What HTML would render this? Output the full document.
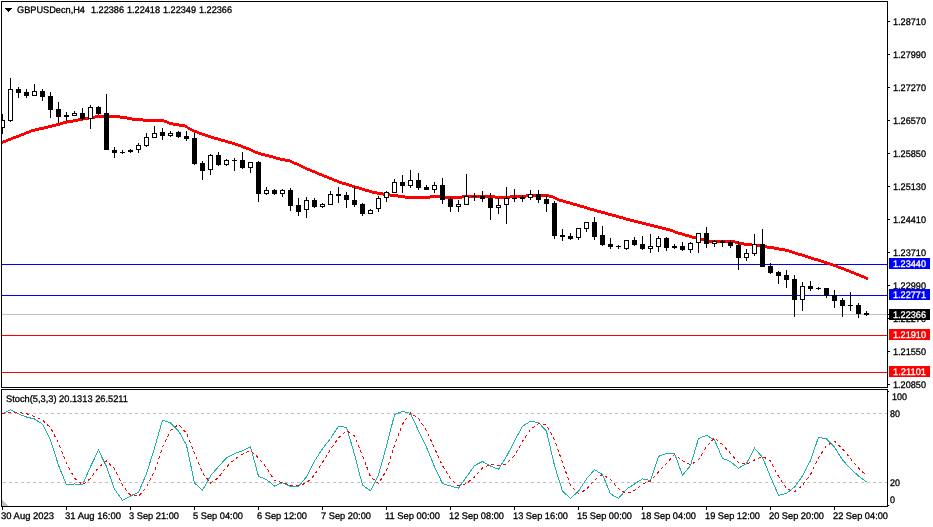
<!DOCTYPE html>
<html><head><meta charset="utf-8"><title>GBPUSDecn,H4</title>
<style>html,body{margin:0;padding:0;background:#fff;overflow:hidden}svg{display:block}</style></head>
<body>
<svg width="933" height="527" viewBox="0 0 933 527" shape-rendering="crispEdges" text-rendering="geometricPrecision">
<rect x="0" y="0" width="933" height="527" fill="#ffffff"/>
<defs><clipPath id="cm"><rect x="2" y="2" width="885" height="385"/></clipPath><clipPath id="cs"><rect x="2" y="390" width="885" height="116"/></clipPath></defs>
<g clip-path="url(#cm)">
<rect x="2" y="314" width="885" height="1" fill="#c0c0c0"/>
<rect x="2" y="264" width="885" height="1" fill="#0000ff"/>
<rect x="2" y="295" width="885" height="1" fill="#0000ff"/>
<rect x="2" y="335" width="885" height="1" fill="#ff0000"/>
<rect x="2" y="372" width="885" height="1" fill="#ff0000"/>
<path d="M2 141h1v3h-1zM3 140h3v3h-3zM6 139h2v3h-2zM8 138h3v3h-3zM11 137h2v3h-2zM13 136h3v3h-3zM16 135h3v3h-3zM19 134h2v3h-2zM21 133h3v3h-3zM24 132h2v3h-2zM26 131h3v3h-3zM29 130h2v3h-2zM31 129h4v3h-4zM35 128h4v3h-4zM39 127h5v3h-5zM44 126h4v3h-4zM48 125h4v3h-4zM52 124h4v3h-4zM56 123h4v3h-4zM60 122h3v3h-3zM63 121h4v3h-4zM67 120h6v3h-6zM73 119h5v3h-5zM78 118h5v3h-5zM83 117h6v3h-6zM89 116h6v3h-6zM95 115h25v3h-25zM120 116h7v3h-7zM127 117h5v3h-5zM132 118h11v3h-11zM143 119h21v3h-21zM164 120h3v3h-3zM167 121h2v3h-2zM169 122h4v3h-4zM173 123h6v3h-6zM179 124h6v3h-6zM185 125h2v3h-2zM187 126h1v3h-1zM188 127h2v3h-2zM190 128h2v3h-2zM192 129h2v3h-2zM194 130h3v3h-3zM197 131h2v3h-2zM199 132h3v3h-3zM202 133h3v3h-3zM205 134h3v3h-3zM208 135h3v3h-3zM211 136h3v3h-3zM214 137h4v3h-4zM218 138h3v3h-3zM221 139h4v3h-4zM225 140h3v3h-3zM228 141h4v3h-4zM232 142h3v3h-3zM235 143h3v3h-3zM238 144h3v3h-3zM241 145h2v3h-2zM243 146h3v3h-3zM246 147h3v3h-3zM249 148h2v3h-2zM251 149h2v3h-2zM253 150h2v3h-2zM255 151h3v3h-3zM258 152h3v3h-3zM261 153h4v3h-4zM265 154h4v3h-4zM269 155h4v3h-4zM273 156h3v3h-3zM276 157h4v3h-4zM280 158h5v3h-5zM285 159h5v3h-5zM290 160h2v3h-2zM292 161h2v3h-2zM294 162h3v3h-3zM297 163h2v3h-2zM299 164h2v3h-2zM301 165h2v3h-2zM303 166h2v3h-2zM305 167h2v3h-2zM307 168h3v3h-3zM310 169h2v3h-2zM312 170h3v3h-3zM315 171h2v3h-2zM317 172h2v3h-2zM319 173h3v3h-3zM322 174h2v3h-2zM324 175h3v3h-3zM327 176h2v3h-2zM329 177h3v3h-3zM332 178h2v3h-2zM334 179h3v3h-3zM337 180h2v3h-2zM339 181h3v3h-3zM342 182h4v3h-4zM346 183h3v3h-3zM349 184h3v3h-3zM352 185h3v3h-3zM355 186h4v3h-4zM359 187h3v3h-3zM362 188h3v3h-3zM365 189h4v3h-4zM369 190h3v3h-3zM372 191h5v3h-5zM377 192h6v3h-6zM383 193h7v3h-7zM390 194h8v3h-8zM398 195h7v3h-7zM405 196h25v3h-25zM430 195h10v3h-10zM440 196h22v3h-22zM462 195h33v3h-33zM495 196h15v3h-15zM510 195h16v3h-16zM526 194h23v3h-23zM549 195h4v3h-4zM553 196h2v3h-2zM555 197h2v3h-2zM557 198h2v3h-2zM559 199h4v3h-4zM563 200h3v3h-3zM566 201h4v3h-4zM570 202h3v3h-3zM573 203h4v3h-4zM577 204h3v3h-3zM580 205h4v3h-4zM584 206h3v3h-3zM587 207h3v3h-3zM590 208h4v3h-4zM594 209h3v3h-3zM597 210h4v3h-4zM601 211h4v3h-4zM605 212h3v3h-3zM608 213h4v3h-4zM612 214h4v3h-4zM616 215h3v3h-3zM619 216h4v3h-4zM623 217h3v3h-3zM626 218h4v3h-4zM630 219h4v3h-4zM634 220h4v3h-4zM638 221h4v3h-4zM642 222h4v3h-4zM646 223h4v3h-4zM650 224h4v3h-4zM654 225h4v3h-4zM658 226h4v3h-4zM662 227h4v3h-4zM666 228h4v3h-4zM670 229h3v3h-3zM673 230h2v3h-2zM675 231h3v3h-3zM678 232h4v3h-4zM682 233h3v3h-3zM685 234h4v3h-4zM689 235h3v3h-3zM692 236h4v3h-4zM696 237h4v3h-4zM700 238h4v3h-4zM704 239h3v3h-3zM707 240h28v3h-28zM735 241h4v3h-4zM739 242h5v3h-5zM744 243h8v3h-8zM752 244h8v3h-8zM760 245h7v3h-7zM767 246h7v3h-7zM774 247h5v3h-5zM779 248h6v3h-6zM785 249h4v3h-4zM789 250h3v3h-3zM792 251h3v3h-3zM795 252h3v3h-3zM798 253h4v3h-4zM802 254h3v3h-3zM805 255h3v3h-3zM808 256h3v3h-3zM811 257h3v3h-3zM814 258h4v3h-4zM818 259h3v3h-3zM821 260h3v3h-3zM824 261h3v3h-3zM827 262h3v3h-3zM830 263h3v3h-3zM833 264h3v3h-3zM836 265h2v3h-2zM838 266h3v3h-3zM841 267h3v3h-3zM844 268h2v3h-2zM846 269h3v3h-3zM849 270h2v3h-2zM851 271h3v3h-3zM854 272h2v3h-2zM856 273h3v3h-3zM859 274h2v3h-2zM861 275h3v3h-3zM864 276h2v3h-2zM866 277h2v3h-2z" fill="#ff0000"/>
<rect x="2" y="114" width="1" height="20" fill="#000"/>
<rect x="0" y="120" width="5" height="8" fill="#000"/>
<rect x="1" y="121" width="3" height="6" fill="#fff"/>
<rect x="10" y="78" width="1" height="44" fill="#000"/>
<rect x="8" y="89" width="5" height="32" fill="#000"/>
<rect x="9" y="90" width="3" height="30" fill="#fff"/>
<rect x="18" y="87" width="1" height="11" fill="#000"/>
<rect x="16" y="89" width="5" height="4" fill="#000"/>
<rect x="26" y="89" width="1" height="9" fill="#000"/>
<rect x="24" y="92" width="5" height="4" fill="#000"/>
<rect x="34" y="84" width="1" height="11" fill="#000"/>
<rect x="32" y="91" width="5" height="5" fill="#000"/>
<rect x="33" y="92" width="3" height="3" fill="#fff"/>
<rect x="42" y="89" width="1" height="12" fill="#000"/>
<rect x="40" y="91" width="5" height="6" fill="#000"/>
<rect x="50" y="92" width="1" height="26" fill="#000"/>
<rect x="48" y="96" width="5" height="14" fill="#000"/>
<rect x="58" y="102" width="1" height="21" fill="#000"/>
<rect x="56" y="109" width="5" height="8" fill="#000"/>
<rect x="66" y="112" width="1" height="9" fill="#000"/>
<rect x="64" y="115" width="5" height="2" fill="#000"/>
<rect x="74" y="111" width="1" height="5" fill="#000"/>
<rect x="72" y="113" width="5" height="3" fill="#000"/>
<rect x="73" y="114" width="3" height="1" fill="#fff"/>
<rect x="82" y="108" width="1" height="12" fill="#000"/>
<rect x="80" y="113" width="5" height="6" fill="#000"/>
<rect x="90" y="105" width="1" height="24" fill="#000"/>
<rect x="88" y="107" width="5" height="12" fill="#000"/>
<rect x="89" y="108" width="3" height="10" fill="#fff"/>
<rect x="98" y="106" width="1" height="9" fill="#000"/>
<rect x="96" y="107" width="5" height="7" fill="#000"/>
<rect x="106" y="94" width="1" height="56" fill="#000"/>
<rect x="104" y="113" width="5" height="37" fill="#000"/>
<rect x="114" y="147" width="1" height="11" fill="#000"/>
<rect x="112" y="150" width="5" height="3" fill="#000"/>
<rect x="122" y="150" width="1" height="4" fill="#000"/>
<rect x="120" y="152" width="5" height="1" fill="#000"/>
<rect x="130" y="149" width="1" height="4" fill="#000"/>
<rect x="128" y="150" width="5" height="2" fill="#000"/>
<rect x="138" y="143" width="1" height="10" fill="#000"/>
<rect x="136" y="145" width="5" height="5" fill="#000"/>
<rect x="137" y="146" width="3" height="3" fill="#fff"/>
<rect x="146" y="133" width="1" height="14" fill="#000"/>
<rect x="144" y="137" width="5" height="9" fill="#000"/>
<rect x="145" y="138" width="3" height="7" fill="#fff"/>
<rect x="154" y="126" width="1" height="12" fill="#000"/>
<rect x="152" y="133" width="5" height="5" fill="#000"/>
<rect x="153" y="134" width="3" height="3" fill="#fff"/>
<rect x="162" y="128" width="1" height="12" fill="#000"/>
<rect x="160" y="132" width="5" height="4" fill="#000"/>
<rect x="170" y="131" width="1" height="6" fill="#000"/>
<rect x="168" y="133" width="5" height="3" fill="#000"/>
<rect x="169" y="134" width="3" height="1" fill="#fff"/>
<rect x="178" y="131" width="1" height="7" fill="#000"/>
<rect x="176" y="132" width="5" height="5" fill="#000"/>
<rect x="186" y="131" width="1" height="10" fill="#000"/>
<rect x="184" y="136" width="5" height="3" fill="#000"/>
<rect x="194" y="133" width="1" height="32" fill="#000"/>
<rect x="192" y="138" width="5" height="26" fill="#000"/>
<rect x="202" y="161" width="1" height="19" fill="#000"/>
<rect x="200" y="163" width="5" height="8" fill="#000"/>
<rect x="210" y="154" width="1" height="21" fill="#000"/>
<rect x="208" y="155" width="5" height="15" fill="#000"/>
<rect x="209" y="156" width="3" height="13" fill="#fff"/>
<rect x="218" y="152" width="1" height="14" fill="#000"/>
<rect x="216" y="155" width="5" height="10" fill="#000"/>
<rect x="226" y="159" width="1" height="7" fill="#000"/>
<rect x="224" y="160" width="5" height="5" fill="#000"/>
<rect x="225" y="161" width="3" height="3" fill="#fff"/>
<rect x="234" y="158" width="1" height="13" fill="#000"/>
<rect x="232" y="160" width="5" height="1" fill="#000"/>
<rect x="242" y="152" width="1" height="17" fill="#000"/>
<rect x="240" y="160" width="5" height="8" fill="#000"/>
<rect x="250" y="162" width="1" height="11" fill="#000"/>
<rect x="248" y="162" width="5" height="6" fill="#000"/>
<rect x="249" y="163" width="3" height="4" fill="#fff"/>
<rect x="258" y="161" width="1" height="41" fill="#000"/>
<rect x="256" y="162" width="5" height="32" fill="#000"/>
<rect x="266" y="187" width="1" height="8" fill="#000"/>
<rect x="264" y="190" width="5" height="4" fill="#000"/>
<rect x="265" y="191" width="3" height="2" fill="#fff"/>
<rect x="274" y="189" width="1" height="6" fill="#000"/>
<rect x="272" y="190" width="5" height="4" fill="#000"/>
<rect x="282" y="189" width="1" height="8" fill="#000"/>
<rect x="280" y="190" width="5" height="4" fill="#000"/>
<rect x="281" y="191" width="3" height="2" fill="#fff"/>
<rect x="290" y="188" width="1" height="23" fill="#000"/>
<rect x="288" y="190" width="5" height="16" fill="#000"/>
<rect x="298" y="198" width="1" height="18" fill="#000"/>
<rect x="296" y="205" width="5" height="7" fill="#000"/>
<rect x="306" y="197" width="1" height="21" fill="#000"/>
<rect x="304" y="200" width="5" height="10" fill="#000"/>
<rect x="305" y="201" width="3" height="8" fill="#fff"/>
<rect x="314" y="198" width="1" height="10" fill="#000"/>
<rect x="312" y="200" width="5" height="7" fill="#000"/>
<rect x="322" y="203" width="1" height="5" fill="#000"/>
<rect x="320" y="204" width="5" height="3" fill="#000"/>
<rect x="321" y="205" width="3" height="1" fill="#fff"/>
<rect x="330" y="191" width="1" height="14" fill="#000"/>
<rect x="328" y="194" width="5" height="11" fill="#000"/>
<rect x="329" y="195" width="3" height="9" fill="#fff"/>
<rect x="338" y="187" width="1" height="16" fill="#000"/>
<rect x="336" y="194" width="5" height="2" fill="#000"/>
<rect x="346" y="192" width="1" height="16" fill="#000"/>
<rect x="344" y="195" width="5" height="5" fill="#000"/>
<rect x="354" y="186" width="1" height="21" fill="#000"/>
<rect x="352" y="200" width="5" height="5" fill="#000"/>
<rect x="362" y="203" width="1" height="13" fill="#000"/>
<rect x="360" y="204" width="5" height="10" fill="#000"/>
<rect x="370" y="209" width="1" height="5" fill="#000"/>
<rect x="368" y="210" width="5" height="4" fill="#000"/>
<rect x="369" y="211" width="3" height="2" fill="#fff"/>
<rect x="378" y="196" width="1" height="16" fill="#000"/>
<rect x="376" y="198" width="5" height="11" fill="#000"/>
<rect x="377" y="199" width="3" height="9" fill="#fff"/>
<rect x="386" y="191" width="1" height="11" fill="#000"/>
<rect x="384" y="192" width="5" height="6" fill="#000"/>
<rect x="385" y="193" width="3" height="4" fill="#fff"/>
<rect x="394" y="179" width="1" height="14" fill="#000"/>
<rect x="392" y="182" width="5" height="11" fill="#000"/>
<rect x="393" y="183" width="3" height="9" fill="#fff"/>
<rect x="402" y="175" width="1" height="18" fill="#000"/>
<rect x="400" y="182" width="5" height="4" fill="#000"/>
<rect x="410" y="170" width="1" height="18" fill="#000"/>
<rect x="408" y="180" width="5" height="6" fill="#000"/>
<rect x="409" y="181" width="3" height="4" fill="#fff"/>
<rect x="418" y="173" width="1" height="17" fill="#000"/>
<rect x="416" y="180" width="5" height="8" fill="#000"/>
<rect x="426" y="185" width="1" height="5" fill="#000"/>
<rect x="424" y="187" width="5" height="3" fill="#000"/>
<rect x="434" y="182" width="1" height="11" fill="#000"/>
<rect x="432" y="185" width="5" height="5" fill="#000"/>
<rect x="433" y="186" width="3" height="3" fill="#fff"/>
<rect x="442" y="178" width="1" height="26" fill="#000"/>
<rect x="440" y="185" width="5" height="15" fill="#000"/>
<rect x="450" y="197" width="1" height="15" fill="#000"/>
<rect x="448" y="199" width="5" height="8" fill="#000"/>
<rect x="458" y="200" width="1" height="12" fill="#000"/>
<rect x="456" y="204" width="5" height="3" fill="#000"/>
<rect x="457" y="205" width="3" height="1" fill="#fff"/>
<rect x="466" y="174" width="1" height="31" fill="#000"/>
<rect x="464" y="196" width="5" height="9" fill="#000"/>
<rect x="465" y="197" width="3" height="7" fill="#fff"/>
<rect x="474" y="193" width="1" height="8" fill="#000"/>
<rect x="472" y="196" width="5" height="1" fill="#000"/>
<rect x="482" y="191" width="1" height="11" fill="#000"/>
<rect x="480" y="196" width="5" height="3" fill="#000"/>
<rect x="490" y="193" width="1" height="27" fill="#000"/>
<rect x="488" y="198" width="5" height="10" fill="#000"/>
<rect x="498" y="198" width="1" height="16" fill="#000"/>
<rect x="496" y="205" width="5" height="3" fill="#000"/>
<rect x="497" y="206" width="3" height="1" fill="#fff"/>
<rect x="506" y="187" width="1" height="37" fill="#000"/>
<rect x="504" y="198" width="5" height="7" fill="#000"/>
<rect x="505" y="199" width="3" height="5" fill="#fff"/>
<rect x="514" y="189" width="1" height="13" fill="#000"/>
<rect x="512" y="198" width="5" height="1" fill="#000"/>
<rect x="522" y="195" width="1" height="7" fill="#000"/>
<rect x="520" y="197" width="5" height="2" fill="#000"/>
<rect x="530" y="190" width="1" height="10" fill="#000"/>
<rect x="528" y="194" width="5" height="4" fill="#000"/>
<rect x="529" y="195" width="3" height="2" fill="#fff"/>
<rect x="538" y="190" width="1" height="13" fill="#000"/>
<rect x="536" y="194" width="5" height="6" fill="#000"/>
<rect x="546" y="195" width="1" height="17" fill="#000"/>
<rect x="544" y="199" width="5" height="5" fill="#000"/>
<rect x="554" y="201" width="1" height="38" fill="#000"/>
<rect x="552" y="203" width="5" height="33" fill="#000"/>
<rect x="562" y="229" width="1" height="12" fill="#000"/>
<rect x="560" y="235" width="5" height="2" fill="#000"/>
<rect x="570" y="233" width="1" height="7" fill="#000"/>
<rect x="568" y="236" width="5" height="3" fill="#000"/>
<rect x="578" y="228" width="1" height="12" fill="#000"/>
<rect x="576" y="228" width="5" height="10" fill="#000"/>
<rect x="577" y="229" width="3" height="8" fill="#fff"/>
<rect x="586" y="222" width="1" height="10" fill="#000"/>
<rect x="584" y="222" width="5" height="7" fill="#000"/>
<rect x="585" y="223" width="3" height="5" fill="#fff"/>
<rect x="594" y="217" width="1" height="23" fill="#000"/>
<rect x="592" y="222" width="5" height="15" fill="#000"/>
<rect x="602" y="226" width="1" height="20" fill="#000"/>
<rect x="600" y="235" width="5" height="10" fill="#000"/>
<rect x="610" y="238" width="1" height="11" fill="#000"/>
<rect x="608" y="244" width="5" height="3" fill="#000"/>
<rect x="618" y="245" width="1" height="4" fill="#000"/>
<rect x="616" y="246" width="5" height="1" fill="#000"/>
<rect x="626" y="240" width="1" height="10" fill="#000"/>
<rect x="624" y="240" width="5" height="9" fill="#000"/>
<rect x="625" y="241" width="3" height="7" fill="#fff"/>
<rect x="634" y="237" width="1" height="9" fill="#000"/>
<rect x="632" y="240" width="5" height="5" fill="#000"/>
<rect x="642" y="236" width="1" height="14" fill="#000"/>
<rect x="640" y="244" width="5" height="5" fill="#000"/>
<rect x="650" y="234" width="1" height="19" fill="#000"/>
<rect x="648" y="246" width="5" height="3" fill="#000"/>
<rect x="649" y="247" width="3" height="1" fill="#fff"/>
<rect x="658" y="236" width="1" height="16" fill="#000"/>
<rect x="656" y="238" width="5" height="9" fill="#000"/>
<rect x="657" y="239" width="3" height="7" fill="#fff"/>
<rect x="666" y="237" width="1" height="14" fill="#000"/>
<rect x="664" y="238" width="5" height="10" fill="#000"/>
<rect x="674" y="244" width="1" height="5" fill="#000"/>
<rect x="672" y="246" width="5" height="2" fill="#000"/>
<rect x="682" y="242" width="1" height="9" fill="#000"/>
<rect x="680" y="246" width="5" height="4" fill="#000"/>
<rect x="690" y="242" width="1" height="11" fill="#000"/>
<rect x="688" y="243" width="5" height="7" fill="#000"/>
<rect x="689" y="244" width="3" height="5" fill="#fff"/>
<rect x="698" y="233" width="1" height="20" fill="#000"/>
<rect x="696" y="233" width="5" height="10" fill="#000"/>
<rect x="697" y="234" width="3" height="8" fill="#fff"/>
<rect x="706" y="227" width="1" height="21" fill="#000"/>
<rect x="704" y="233" width="5" height="11" fill="#000"/>
<rect x="714" y="240" width="1" height="7" fill="#000"/>
<rect x="712" y="241" width="5" height="3" fill="#000"/>
<rect x="713" y="242" width="3" height="1" fill="#fff"/>
<rect x="722" y="240" width="1" height="7" fill="#000"/>
<rect x="720" y="241" width="5" height="2" fill="#000"/>
<rect x="730" y="240" width="1" height="8" fill="#000"/>
<rect x="728" y="242" width="5" height="4" fill="#000"/>
<rect x="738" y="241" width="1" height="29" fill="#000"/>
<rect x="736" y="245" width="5" height="13" fill="#000"/>
<rect x="746" y="249" width="1" height="12" fill="#000"/>
<rect x="744" y="253" width="5" height="5" fill="#000"/>
<rect x="745" y="254" width="3" height="3" fill="#fff"/>
<rect x="754" y="234" width="1" height="22" fill="#000"/>
<rect x="752" y="244" width="5" height="10" fill="#000"/>
<rect x="753" y="245" width="3" height="8" fill="#fff"/>
<rect x="762" y="229" width="1" height="38" fill="#000"/>
<rect x="760" y="244" width="5" height="23" fill="#000"/>
<rect x="770" y="263" width="1" height="11" fill="#000"/>
<rect x="768" y="266" width="5" height="7" fill="#000"/>
<rect x="778" y="271" width="1" height="13" fill="#000"/>
<rect x="776" y="272" width="5" height="4" fill="#000"/>
<rect x="786" y="270" width="1" height="18" fill="#000"/>
<rect x="784" y="275" width="5" height="5" fill="#000"/>
<rect x="794" y="275" width="1" height="42" fill="#000"/>
<rect x="792" y="279" width="5" height="21" fill="#000"/>
<rect x="802" y="282" width="1" height="29" fill="#000"/>
<rect x="800" y="286" width="5" height="14" fill="#000"/>
<rect x="801" y="287" width="3" height="12" fill="#fff"/>
<rect x="810" y="281" width="1" height="10" fill="#000"/>
<rect x="808" y="286" width="5" height="3" fill="#000"/>
<rect x="818" y="287" width="1" height="3" fill="#000"/>
<rect x="816" y="288" width="5" height="1" fill="#000"/>
<rect x="826" y="288" width="1" height="10" fill="#000"/>
<rect x="824" y="288" width="5" height="8" fill="#000"/>
<rect x="834" y="290" width="1" height="18" fill="#000"/>
<rect x="832" y="295" width="5" height="6" fill="#000"/>
<rect x="842" y="298" width="1" height="19" fill="#000"/>
<rect x="840" y="300" width="5" height="6" fill="#000"/>
<rect x="850" y="292" width="1" height="19" fill="#000"/>
<rect x="848" y="305" width="5" height="1" fill="#000"/>
<rect x="858" y="303" width="1" height="15" fill="#000"/>
<rect x="856" y="305" width="5" height="9" fill="#000"/>
<rect x="866" y="311" width="1" height="5" fill="#000"/>
<rect x="864" y="313" width="5" height="2" fill="#000"/>
</g>
<rect x="1" y="1" width="887" height="1" fill="#000"/>
<rect x="1" y="1" width="1" height="387" fill="#000"/>
<rect x="887" y="1" width="1" height="387" fill="#000"/>
<rect x="1" y="387" width="887" height="1" fill="#000"/>
<rect x="888" y="21" width="2" height="1" fill="#000"/>
<text x="893" y="25" font-family="Liberation Sans, sans-serif" font-size="9.5" fill="#000000" stroke="#000000" stroke-width="0.3" textLength="33" lengthAdjust="spacingAndGlyphs">1.28710</text>
<rect x="888" y="54" width="2" height="1" fill="#000"/>
<text x="893" y="58" font-family="Liberation Sans, sans-serif" font-size="9.5" fill="#000000" stroke="#000000" stroke-width="0.3" textLength="33" lengthAdjust="spacingAndGlyphs">1.27990</text>
<rect x="888" y="87" width="2" height="1" fill="#000"/>
<text x="893" y="91" font-family="Liberation Sans, sans-serif" font-size="9.5" fill="#000000" stroke="#000000" stroke-width="0.3" textLength="33" lengthAdjust="spacingAndGlyphs">1.27270</text>
<rect x="888" y="120" width="2" height="1" fill="#000"/>
<text x="893" y="124" font-family="Liberation Sans, sans-serif" font-size="9.5" fill="#000000" stroke="#000000" stroke-width="0.3" textLength="33" lengthAdjust="spacingAndGlyphs">1.26570</text>
<rect x="888" y="153" width="2" height="1" fill="#000"/>
<text x="893" y="157" font-family="Liberation Sans, sans-serif" font-size="9.5" fill="#000000" stroke="#000000" stroke-width="0.3" textLength="33" lengthAdjust="spacingAndGlyphs">1.25850</text>
<rect x="888" y="186" width="2" height="1" fill="#000"/>
<text x="893" y="190" font-family="Liberation Sans, sans-serif" font-size="9.5" fill="#000000" stroke="#000000" stroke-width="0.3" textLength="33" lengthAdjust="spacingAndGlyphs">1.25130</text>
<rect x="888" y="219" width="2" height="1" fill="#000"/>
<text x="893" y="223" font-family="Liberation Sans, sans-serif" font-size="9.5" fill="#000000" stroke="#000000" stroke-width="0.3" textLength="33" lengthAdjust="spacingAndGlyphs">1.24410</text>
<rect x="888" y="252" width="2" height="1" fill="#000"/>
<text x="893" y="256" font-family="Liberation Sans, sans-serif" font-size="9.5" fill="#000000" stroke="#000000" stroke-width="0.3" textLength="33" lengthAdjust="spacingAndGlyphs">1.23710</text>
<rect x="888" y="285" width="2" height="1" fill="#000"/>
<text x="893" y="289" font-family="Liberation Sans, sans-serif" font-size="9.5" fill="#000000" stroke="#000000" stroke-width="0.3" textLength="33" lengthAdjust="spacingAndGlyphs">1.22990</text>
<rect x="888" y="318" width="2" height="1" fill="#000"/>
<text x="893" y="322" font-family="Liberation Sans, sans-serif" font-size="9.5" fill="#000000" stroke="#000000" stroke-width="0.3" textLength="33" lengthAdjust="spacingAndGlyphs">1.22270</text>
<rect x="888" y="351" width="2" height="1" fill="#000"/>
<text x="893" y="355" font-family="Liberation Sans, sans-serif" font-size="9.5" fill="#000000" stroke="#000000" stroke-width="0.3" textLength="33" lengthAdjust="spacingAndGlyphs">1.21550</text>
<rect x="888" y="384" width="2" height="1" fill="#000"/>
<text x="893" y="388" font-family="Liberation Sans, sans-serif" font-size="9.5" fill="#000000" stroke="#000000" stroke-width="0.3" textLength="33" lengthAdjust="spacingAndGlyphs">1.20850</text>
<rect x="889" y="258" width="41" height="11" fill="#0000ff"/>
<text x="893" y="267" font-family="Liberation Sans, sans-serif" font-size="9.5" fill="#ffffff" stroke="#ffffff" stroke-width="0.3" textLength="33" lengthAdjust="spacingAndGlyphs">1.23440</text>
<rect x="889" y="289" width="41" height="11" fill="#0000ff"/>
<text x="893" y="298" font-family="Liberation Sans, sans-serif" font-size="9.5" fill="#ffffff" stroke="#ffffff" stroke-width="0.3" textLength="33" lengthAdjust="spacingAndGlyphs">1.22771</text>
<rect x="889" y="329" width="41" height="11" fill="#ff0000"/>
<text x="893" y="338" font-family="Liberation Sans, sans-serif" font-size="9.5" fill="#ffffff" stroke="#ffffff" stroke-width="0.3" textLength="33" lengthAdjust="spacingAndGlyphs">1.21910</text>
<rect x="889" y="366" width="41" height="11" fill="#ff0000"/>
<text x="893" y="375" font-family="Liberation Sans, sans-serif" font-size="9.5" fill="#ffffff" stroke="#ffffff" stroke-width="0.3" textLength="33" lengthAdjust="spacingAndGlyphs">1.21101</text>
<rect x="889" y="309" width="41" height="11" fill="#000"/>
<text x="893" y="318" font-family="Liberation Sans, sans-serif" font-size="9.5" fill="#fff" stroke="#fff" stroke-width="0.3" textLength="33" lengthAdjust="spacingAndGlyphs">1.22366</text>
<rect x="887" y="314" width="3" height="1" fill="#000"/>
<path d="M5 8h7l-3.5 4z" fill="#000"/>
<text x="17" y="13" font-family="Liberation Sans, sans-serif" font-size="9.5" fill="#000000" stroke="#000000" stroke-width="0.3" textLength="68" lengthAdjust="spacingAndGlyphs">GBPUSDecn,H4</text>
<text x="91" y="13" font-family="Liberation Sans, sans-serif" font-size="9.5" fill="#000000" stroke="#000000" stroke-width="0.3" textLength="33" lengthAdjust="spacingAndGlyphs">1.22386</text>
<text x="127" y="13" font-family="Liberation Sans, sans-serif" font-size="9.5" fill="#000000" stroke="#000000" stroke-width="0.3" textLength="33" lengthAdjust="spacingAndGlyphs">1.22418</text>
<text x="163" y="13" font-family="Liberation Sans, sans-serif" font-size="9.5" fill="#000000" stroke="#000000" stroke-width="0.3" textLength="33" lengthAdjust="spacingAndGlyphs">1.22349</text>
<text x="199" y="13" font-family="Liberation Sans, sans-serif" font-size="9.5" fill="#000000" stroke="#000000" stroke-width="0.3" textLength="33" lengthAdjust="spacingAndGlyphs">1.22366</text>
<rect x="1" y="389" width="887" height="1" fill="#000"/>
<rect x="1" y="389" width="1" height="118" fill="#000"/>
<rect x="887" y="389" width="1" height="118" fill="#000"/>
<rect x="1" y="506" width="887" height="1" fill="#000"/>
<g clip-path="url(#cs)">
<path d="M3 413.5H887M3 482.5H887" stroke="#c0c0c0" stroke-width="1" stroke-dasharray="3 3" fill="none"/>
<polyline points="2.5,413.9 10.5,409.8 18.5,413.9 26.5,417.0 34.5,419.0 42.5,424.2 50.5,440.0 58.5,465.2 66.5,485.0 74.5,484.0 82.5,485.0 90.5,466.6 98.5,450.2 106.5,466.6 114.5,489.2 122.5,500.4 130.5,496.0 138.5,492.2 146.5,473.8 154.5,448.2 162.5,420.1 170.5,423.0 178.5,430.8 186.5,445.1 194.5,483.0 202.5,490.2 210.5,475.9 218.5,466.6 226.5,457.8 234.5,453.7 242.5,450.8 250.5,446.7 258.5,476.3 266.5,479.5 274.5,486.1 282.5,482.6 290.5,486.5 298.5,486.5 306.5,476.9 314.5,461.1 322.5,448.8 330.5,438.5 338.5,426.2 346.5,427.3 354.5,454.3 362.5,485.1 370.5,490.8 378.5,474.8 386.5,446.1 394.5,414.8 402.5,411.3 410.5,413.3 418.5,430.8 426.5,447.2 434.5,466.6 442.5,483.6 450.5,485.9 458.5,488.2 466.5,476.9 474.5,465.6 482.5,461.5 490.5,466.0 498.5,469.3 506.5,456.4 514.5,441.0 522.5,426.2 530.5,421.3 538.5,422.6 546.5,431.2 554.5,465.6 562.5,491.2 570.5,498.4 578.5,491.2 586.5,478.9 594.5,469.7 602.5,474.5 610.5,493.9 618.5,498.4 626.5,489.2 634.5,484.0 642.5,478.9 650.5,480.4 658.5,456.4 666.5,453.3 674.5,453.3 682.5,475.4 690.5,465.6 698.5,438.5 706.5,435.3 714.5,440.0 722.5,458.4 730.5,461.5 738.5,468.3 746.5,463.5 754.5,448.2 762.5,457.4 770.5,476.9 778.5,495.3 786.5,493.3 794.5,487.1 802.5,475.9 810.5,460.5 818.5,437.3 826.5,439.0 834.5,447.2 842.5,459.9 850.5,468.7 858.5,475.9 866.5,482.0" fill="none" stroke="#20b2aa" stroke-width="1"/>
<polyline points="2.5,413.6 10.5,412.8 18.5,412.5 26.5,413.6 34.5,416.6 42.5,420.1 50.5,427.7 58.5,443.1 66.5,463.4 74.5,478.1 82.5,484.7 90.5,478.5 98.5,467.3 106.5,461.1 114.5,468.7 122.5,485.4 130.5,495.2 138.5,496.2 146.5,487.3 154.5,471.4 162.5,447.4 170.5,430.4 178.5,424.6 186.5,433.0 194.5,453.0 202.5,472.8 210.5,483.0 218.5,477.6 226.5,466.8 234.5,459.4 242.5,454.1 250.5,450.4 258.5,457.9 266.5,467.5 274.5,480.6 282.5,482.7 290.5,485.1 298.5,485.2 306.5,483.3 314.5,474.8 322.5,462.3 330.5,449.5 338.5,437.8 346.5,430.7 354.5,435.9 362.5,455.6 370.5,476.7 378.5,483.6 386.5,470.6 394.5,445.2 402.5,424.1 410.5,413.1 418.5,418.5 426.5,430.4 434.5,448.2 442.5,465.8 450.5,478.7 458.5,485.9 466.5,483.7 474.5,476.9 482.5,468.0 490.5,464.4 498.5,465.6 506.5,463.9 514.5,455.6 522.5,441.2 530.5,429.5 538.5,423.4 546.5,425.0 554.5,439.8 562.5,462.7 570.5,485.1 578.5,493.6 586.5,489.5 594.5,479.9 602.5,474.4 610.5,479.4 618.5,488.9 626.5,493.8 634.5,490.5 642.5,484.0 650.5,481.1 658.5,471.9 666.5,463.4 674.5,454.3 682.5,460.7 690.5,464.8 698.5,459.8 706.5,446.5 714.5,437.9 722.5,444.6 730.5,453.3 738.5,462.7 746.5,464.4 754.5,460.0 762.5,456.4 770.5,460.8 778.5,476.5 786.5,488.5 794.5,491.9 802.5,485.4 810.5,474.5 818.5,457.9 826.5,445.6 834.5,441.2 842.5,448.7 850.5,458.6 858.5,468.2 866.5,475.5" fill="none" stroke="#ff0000" stroke-width="1" stroke-dasharray="3 3"/>
<path d="M2 500v6h6z" fill="#c0c0c0"/>
</g>
<text x="6" y="402" font-family="Liberation Sans, sans-serif" font-size="9.5" fill="#000000" stroke="#000000" stroke-width="0.3" textLength="122" lengthAdjust="spacingAndGlyphs">Stoch(5,3,3) 20.1313 26.5211</text>
<rect x="888" y="391" width="1" height="1" fill="#000"/>
<rect x="888" y="505" width="1" height="1" fill="#000"/>
<text x="892" y="400" font-family="Liberation Sans, sans-serif" font-size="9.5" fill="#000000" stroke="#000000" stroke-width="0.3" textLength="15" lengthAdjust="spacingAndGlyphs">100</text>
<text x="890" y="417" font-family="Liberation Sans, sans-serif" font-size="9.5" fill="#000000" stroke="#000000" stroke-width="0.3" textLength="10" lengthAdjust="spacingAndGlyphs">80</text>
<text x="890" y="486" font-family="Liberation Sans, sans-serif" font-size="9.5" fill="#000000" stroke="#000000" stroke-width="0.3" textLength="10" lengthAdjust="spacingAndGlyphs">20</text>
<text x="890" y="503" font-family="Liberation Sans, sans-serif" font-size="9.5" fill="#000000" stroke="#000000" stroke-width="0.3" textLength="5" lengthAdjust="spacingAndGlyphs">0</text>
<rect x="2" y="507" width="1" height="3" fill="#000"/>
<text x="1" y="519" font-family="Liberation Sans, sans-serif" font-size="9.5" fill="#000000" stroke="#000000" stroke-width="0.3" textLength="53" lengthAdjust="spacingAndGlyphs">30 Aug 2023</text>
<rect x="66" y="507" width="1" height="3" fill="#000"/>
<text x="65" y="519" font-family="Liberation Sans, sans-serif" font-size="9.5" fill="#000000" stroke="#000000" stroke-width="0.3" textLength="56" lengthAdjust="spacingAndGlyphs">31 Aug 16:00</text>
<rect x="130" y="507" width="1" height="3" fill="#000"/>
<text x="129" y="519" font-family="Liberation Sans, sans-serif" font-size="9.5" fill="#000000" stroke="#000000" stroke-width="0.3" textLength="50" lengthAdjust="spacingAndGlyphs">3 Sep 21:00</text>
<rect x="194" y="507" width="1" height="3" fill="#000"/>
<text x="193" y="519" font-family="Liberation Sans, sans-serif" font-size="9.5" fill="#000000" stroke="#000000" stroke-width="0.3" textLength="50" lengthAdjust="spacingAndGlyphs">5 Sep 04:00</text>
<rect x="258" y="507" width="1" height="3" fill="#000"/>
<text x="257" y="519" font-family="Liberation Sans, sans-serif" font-size="9.5" fill="#000000" stroke="#000000" stroke-width="0.3" textLength="50" lengthAdjust="spacingAndGlyphs">6 Sep 12:00</text>
<rect x="322" y="507" width="1" height="3" fill="#000"/>
<text x="321" y="519" font-family="Liberation Sans, sans-serif" font-size="9.5" fill="#000000" stroke="#000000" stroke-width="0.3" textLength="50" lengthAdjust="spacingAndGlyphs">7 Sep 20:00</text>
<rect x="386" y="507" width="1" height="3" fill="#000"/>
<text x="385" y="519" font-family="Liberation Sans, sans-serif" font-size="9.5" fill="#000000" stroke="#000000" stroke-width="0.3" textLength="55" lengthAdjust="spacingAndGlyphs">11 Sep 00:00</text>
<rect x="450" y="507" width="1" height="3" fill="#000"/>
<text x="449" y="519" font-family="Liberation Sans, sans-serif" font-size="9.5" fill="#000000" stroke="#000000" stroke-width="0.3" textLength="55" lengthAdjust="spacingAndGlyphs">12 Sep 08:00</text>
<rect x="514" y="507" width="1" height="3" fill="#000"/>
<text x="513" y="519" font-family="Liberation Sans, sans-serif" font-size="9.5" fill="#000000" stroke="#000000" stroke-width="0.3" textLength="55" lengthAdjust="spacingAndGlyphs">13 Sep 16:00</text>
<rect x="578" y="507" width="1" height="3" fill="#000"/>
<text x="577" y="519" font-family="Liberation Sans, sans-serif" font-size="9.5" fill="#000000" stroke="#000000" stroke-width="0.3" textLength="55" lengthAdjust="spacingAndGlyphs">15 Sep 00:00</text>
<rect x="642" y="507" width="1" height="3" fill="#000"/>
<text x="641" y="519" font-family="Liberation Sans, sans-serif" font-size="9.5" fill="#000000" stroke="#000000" stroke-width="0.3" textLength="55" lengthAdjust="spacingAndGlyphs">18 Sep 04:00</text>
<rect x="706" y="507" width="1" height="3" fill="#000"/>
<text x="705" y="519" font-family="Liberation Sans, sans-serif" font-size="9.5" fill="#000000" stroke="#000000" stroke-width="0.3" textLength="55" lengthAdjust="spacingAndGlyphs">19 Sep 12:00</text>
<rect x="770" y="507" width="1" height="3" fill="#000"/>
<text x="769" y="519" font-family="Liberation Sans, sans-serif" font-size="9.5" fill="#000000" stroke="#000000" stroke-width="0.3" textLength="55" lengthAdjust="spacingAndGlyphs">20 Sep 20:00</text>
<rect x="834" y="507" width="1" height="3" fill="#000"/>
<text x="833" y="519" font-family="Liberation Sans, sans-serif" font-size="9.5" fill="#000000" stroke="#000000" stroke-width="0.3" textLength="55" lengthAdjust="spacingAndGlyphs">22 Sep 04:00</text>
</svg>
</body></html>
